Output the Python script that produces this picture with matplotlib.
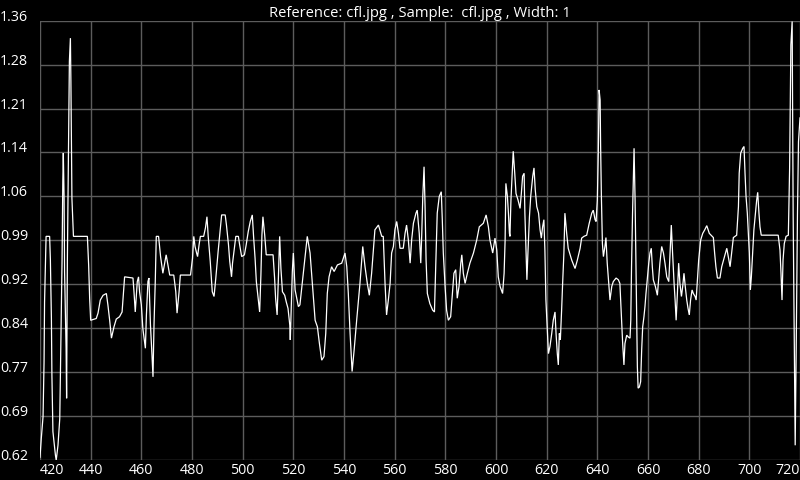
import matplotlib
matplotlib.use("Agg")
import matplotlib.pyplot as plt
import numpy as np

plt.rcParams['font.family'] = ['Open Sans', 'DejaVu Sans']

# ---- data ----
wavelength = [
    420.0, 420.5, 421.2, 421.6, 421.8, 422.4, 423.8, 424.1, 424.5, 424.7,
    425.1, 426.1, 426.4, 427.1, 427.8, 428.2, 428.7, 429.0, 429.2, 429.5,
    429.7, 430.3, 430.5, 430.8, 431.2, 431.6, 432.0, 432.2, 432.6, 433.2,
    438.7, 439.2, 439.6, 440.0, 442.2, 442.9, 443.8, 444.9, 446.2, 446.8,
    447.5, 448.2, 449.2, 450.1, 451.4, 452.4, 453.4, 456.7, 457.1, 457.6,
    458.4, 458.9, 459.3, 460.0, 460.6, 461.6, 462.0, 462.6, 463.0, 463.6,
    464.2, 464.6, 465.0, 465.5, 465.9, 466.8, 467.6, 468.5, 469.8, 471.2,
    472.8, 473.6, 474.1, 474.9, 475.4, 479.4, 480.2, 480.7, 481.2, 481.7,
    482.2, 482.8, 483.3, 484.6, 485.3, 485.9, 486.4, 487.2, 488.0, 488.7,
    489.4, 490.3, 491.2, 491.7, 493.1, 493.6, 494.4, 494.9, 495.6, 496.0,
    496.7, 497.3, 498.3, 498.8, 499.6, 500.7, 501.4, 502.2, 503.0, 503.8,
    504.3, 504.9, 505.4, 506.1, 506.7, 507.2, 507.6, 508.0, 508.7, 509.3,
    512.0, 512.6, 513.0, 513.6, 514.1, 514.6, 515.1, 515.7, 516.6, 517.2,
    517.9, 518.6, 518.8, 519.2, 519.6, 520.0, 520.7, 522.0, 522.6, 524.2,
    525.5, 526.6, 527.6, 528.6, 529.5, 530.3, 531.2, 532.1, 532.8, 533.4,
    534.1, 535.1, 536.1, 537.4, 539.1, 540.4, 541.1, 541.7, 542.4, 543.2,
    544.0, 545.0, 546.3, 547.4, 548.3, 549.2, 550.0, 550.9, 552.2, 553.6,
    554.9, 555.5, 556.2, 556.8, 557.5, 558.2, 558.8, 559.5, 560.1, 560.8,
    561.5, 562.1, 563.4, 564.1, 564.7, 565.4, 566.1, 566.7, 567.4, 568.4,
    568.9, 569.7, 570.3, 570.7, 571.1, 571.6, 572.0, 572.4, 572.9, 573.9,
    575.0, 575.7, 576.3, 576.8, 577.6, 578.4, 578.8, 579.2, 579.9, 580.5,
    581.2, 582.1, 582.9, 583.4, 584.1, 584.7, 585.4, 586.1, 586.5, 587.1,
    587.8, 588.7, 589.7, 591.1, 592.4, 593.4, 595.0, 596.1, 597.0, 597.6,
    598.7, 599.6, 600.3, 600.9, 601.6, 602.6, 603.2, 603.6, 603.9, 604.5,
    604.9, 605.3, 605.5, 605.9, 606.4, 606.8, 607.4, 607.9, 608.7, 609.5,
    610.0, 610.5, 611.1, 611.4, 611.8, 612.2, 612.6, 613.2, 613.7, 614.5,
    615.0, 615.5, 616.1, 616.8, 617.4, 617.9, 618.4, 618.9, 619.3, 619.7,
    620.3, 620.7, 621.3, 622.0, 622.6, 623.3, 623.7, 624.2, 624.6, 625.0,
    625.4, 625.9, 626.3, 626.8, 627.2, 627.9, 628.5, 629.9, 631.2, 632.1,
    633.2, 633.8, 634.7, 635.8, 636.8, 637.8, 638.4, 639.1, 639.5, 640.0,
    640.4, 640.7, 641.1, 641.3, 641.6, 642.0, 642.4, 643.0, 643.4, 643.9,
    644.5, 645.0, 645.7, 646.3, 647.4, 648.3, 648.9, 649.6, 650.0, 650.5,
    650.9, 651.6, 652.2, 652.9, 653.2, 653.5, 653.9, 654.2, 654.5, 654.9,
    655.3, 655.5, 655.8, 656.1, 656.6, 657.1, 657.5, 657.9, 658.4, 658.8,
    659.2, 659.7, 660.3, 660.8, 661.3, 661.7, 662.1, 662.9, 663.7, 664.2,
    664.7, 665.4, 666.1, 666.7, 667.4, 668.2, 668.7, 669.2, 669.7, 670.3,
    670.7, 671.1, 671.6, 672.1, 672.6, 673.2, 673.7, 674.2, 674.7, 675.3,
    675.8, 676.3, 676.8, 677.4, 677.9, 678.6, 679.0, 679.5, 680.0, 680.8,
    681.6, 682.4, 683.2, 684.2, 685.3, 685.8, 686.3, 686.8, 687.4, 688.4,
    689.1, 690.0, 691.1, 691.7, 692.4, 693.0, 693.7, 695.0, 695.7, 696.0,
    696.6, 697.4, 697.9, 698.3, 698.7, 699.2, 699.6, 700.0, 700.4, 700.8,
    701.3, 701.8, 702.4, 702.9, 703.3, 703.8, 704.2, 704.7, 711.4, 712.1,
    712.5, 712.9, 713.3, 713.8, 714.5, 715.4, 715.9, 716.4, 716.9, 717.3,
    717.7, 718.1, 718.5, 719.0, 719.4, 720.0,
]

ratio = [
    0.625, 0.656, 0.693, 0.785, 0.886, 0.996, 0.996, 0.956, 0.858, 0.763,
    0.668, 0.628, 0.620, 0.645, 0.690, 0.813, 0.954, 1.088, 1.136, 1.063,
    0.937, 0.808, 0.724, 0.954, 1.116, 1.290, 1.329, 1.256, 1.060, 0.996,
    0.996, 0.948, 0.892, 0.855, 0.858, 0.867, 0.889, 0.897, 0.900, 0.881,
    0.855, 0.825, 0.844, 0.857, 0.861, 0.869, 0.928, 0.926, 0.903, 0.869,
    0.920, 0.928, 0.903, 0.881, 0.841, 0.808, 0.864, 0.920, 0.926, 0.847,
    0.797, 0.760, 0.847, 0.920, 0.996, 0.996, 0.962, 0.934, 0.965, 0.931,
    0.931, 0.903, 0.867, 0.903, 0.931, 0.931, 0.959, 0.996, 0.979, 0.970,
    0.962, 0.982, 0.996, 0.996, 1.010, 1.029, 0.996, 0.954, 0.903, 0.895,
    0.926, 0.970, 1.010, 1.032, 1.032, 1.015, 0.982, 0.954, 0.928, 0.951,
    0.976, 0.996, 0.996, 0.982, 0.962, 0.965, 0.982, 1.004, 1.021, 1.032,
    0.996, 0.959, 0.920, 0.892, 0.869, 0.931, 0.998, 1.029, 0.998, 0.965,
    0.965, 0.926, 0.892, 0.864, 0.926, 0.996, 0.942, 0.903, 0.897, 0.886,
    0.875, 0.847, 0.822, 0.881, 0.937, 0.968, 0.906, 0.878, 0.881, 0.945,
    0.996, 0.968, 0.912, 0.855, 0.844, 0.816, 0.788, 0.794, 0.833, 0.900,
    0.928, 0.945, 0.937, 0.948, 0.951, 0.968, 0.945, 0.900, 0.833, 0.769,
    0.805, 0.855, 0.917, 0.979, 0.945, 0.917, 0.897, 0.934, 1.007, 1.015,
    0.996, 0.996, 0.917, 0.864, 0.889, 0.917, 0.968, 0.979, 1.007, 1.021,
    1.001, 0.976, 0.976, 1.001, 1.015, 0.990, 0.951, 0.990, 1.018, 1.035,
    1.040, 1.001, 0.951, 1.001, 1.063, 1.113, 1.046, 0.956, 0.900, 0.883,
    0.872, 0.869, 0.962, 1.035, 1.063, 1.071, 1.024, 0.968, 0.912, 0.872,
    0.855, 0.861, 0.906, 0.934, 0.940, 0.892, 0.912, 0.951, 0.965, 0.934,
    0.917, 0.934, 0.951, 0.968, 0.990, 1.012, 1.018, 1.032, 1.012, 0.990,
    0.968, 0.993, 0.973, 0.928, 0.912, 0.900, 0.934, 0.990, 1.085, 1.063,
    1.035, 1.001, 0.996, 1.057, 1.102, 1.139, 1.102, 1.068, 1.057, 1.043,
    1.068, 1.097, 1.102, 1.035, 0.979, 0.923, 0.968, 1.029, 1.063, 1.097,
    1.111, 1.074, 1.046, 1.035, 1.007, 0.993, 1.012, 1.024, 0.973, 0.889,
    0.833, 0.799, 0.811, 0.833, 0.855, 0.869, 0.833, 0.799, 0.780, 0.833,
    0.822, 0.872, 0.917, 0.968, 1.035, 1.001, 0.976, 0.956, 0.942, 0.956,
    0.976, 0.993, 0.996, 0.998, 1.018, 1.035, 1.040, 1.024, 1.021, 1.057,
    1.141, 1.242, 1.225, 1.147, 1.063, 0.984, 0.962, 0.979, 0.994, 0.951,
    0.917, 0.889, 0.912, 0.920, 0.926, 0.923, 0.917, 0.855, 0.816, 0.780,
    0.816, 0.830, 0.827, 0.825, 0.855, 0.945, 1.035, 1.091, 1.144, 1.057,
    0.934, 0.861, 0.777, 0.741, 0.743, 0.752, 0.805, 0.844, 0.861, 0.878,
    0.900, 0.923, 0.951, 0.968, 0.976, 0.945, 0.923, 0.912, 0.897, 0.923,
    0.951, 0.979, 0.968, 0.951, 0.928, 0.920, 0.968, 1.015, 0.968, 0.917,
    0.889, 0.855, 0.900, 0.951, 0.917, 0.895, 0.912, 0.934, 0.912, 0.889,
    0.875, 0.864, 0.889, 0.906, 0.900, 0.895, 0.889, 0.923, 0.956, 0.990,
    1.001, 1.007, 1.014, 1.001, 0.996, 0.994, 0.968, 0.945, 0.926, 0.926,
    0.945, 0.959, 0.976, 0.962, 0.945, 0.968, 0.994, 0.998, 1.046, 1.102,
    1.136, 1.144, 1.147, 1.102, 1.063, 1.035, 1.001, 0.968, 0.906, 0.928,
    0.968, 1.007, 1.035, 1.057, 1.070, 1.035, 1.012, 0.998, 0.998, 0.973,
    0.934, 0.889, 0.956, 0.984, 0.996, 0.998, 1.110, 1.318, 1.357, 1.032,
    0.830, 0.645, 0.808, 1.032, 1.155, 1.195,
]

x_ticks = [420, 440, 460, 480, 500, 520, 540, 560, 580, 600, 620, 640, 660, 680, 700, 720]
y_min, y_max = 0.6203, 1.3583
title = "Reference: cfl.jpg , Sample:  cfl.jpg , Width: 1"

# ---- figure ----
W, H = 800, 480
fig = plt.figure(figsize=(W / 100, H / 100), dpi=100, facecolor="black")
left_px, right_px, top_px, bottom_px = 40, 800, 20.7, 460
ax = fig.add_axes([left_px / W, 1 - bottom_px / H,
                   (right_px - left_px) / W, (bottom_px - top_px) / H])
ax.set_facecolor("black")

ax.plot(wavelength, ratio, color="white", lw=0.9, solid_joinstyle="miter")

ax.set_xlim(420, 720)
ax.set_ylim(y_min, y_max)

y_ticks = np.linspace(y_min, y_max, 11)
ax.set_xticks(x_ticks)
ax.set_xticklabels([str(t) for t in x_ticks])
ax.set_yticks(y_ticks)
ax.set_yticklabels(["%.2f" % t for t in y_ticks])

ax.grid(True, color="#5c5c5c", lw=1.0)
ax.set_axisbelow(True)
for s in ax.spines.values():
    s.set_visible(False)

ax.tick_params(length=0, colors="white", labelsize=10.3)
ax.tick_params(axis="x", pad=2)
ax.tick_params(axis="y", pad=left_px * 72 / 100)

for lab in ax.get_yticklabels():
    lab.set_horizontalalignment("left")
    lab.set_verticalalignment("baseline")
xl = ax.get_xticklabels()
xl[0].set_horizontalalignment("left")
xl[-1].set_horizontalalignment("right")

ax.set_title(title, color="white", fontsize=10.6, pad=2)

fig.savefig("out.png", dpi=100, facecolor="black")
